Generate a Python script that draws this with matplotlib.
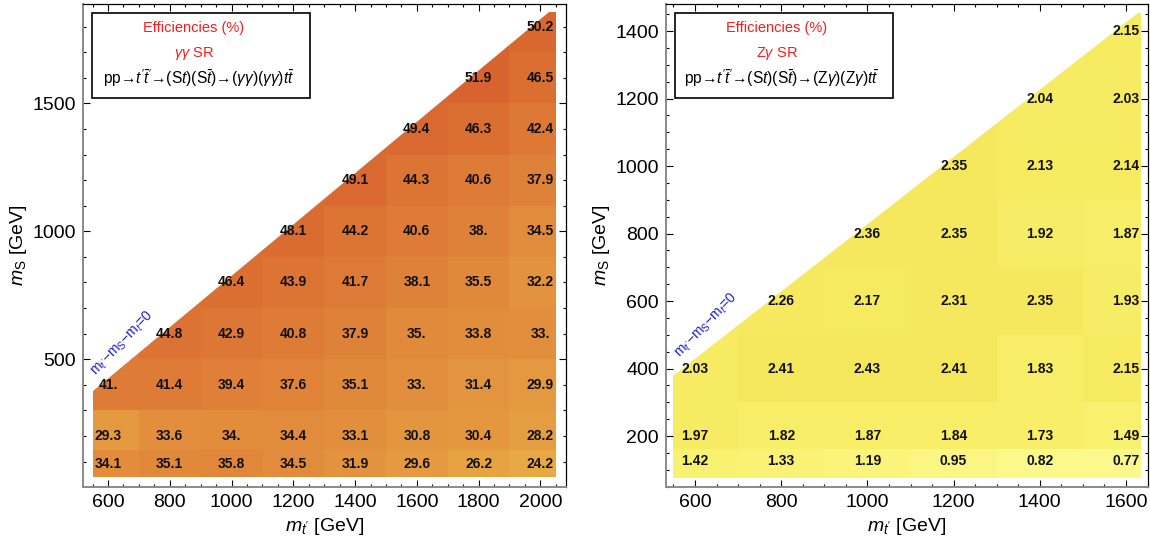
import numpy as np
import matplotlib
matplotlib.use('Agg')
import matplotlib.pyplot as plt
from matplotlib.colors import LinearSegmentedColormap, Normalize
from matplotlib.patches import Polygon, Rectangle
from matplotlib.ticker import MultipleLocator

plt.rcParams['font.family'] = ['Liberation Sans', 'DejaVu Sans']
plt.rcParams['mathtext.fontset'] = 'custom'
plt.rcParams['mathtext.rm'] = 'Liberation Sans'
plt.rcParams['mathtext.it'] = 'Liberation Sans:italic'
plt.rcParams['mathtext.bf'] = 'Liberation Sans:bold'

M_TOP = 173.0

# gamma gamma signal region: efficiencies (%) per (m_t', m_S) point
aa_mtp = [600, 800, 1000, 1200, 1400, 1600, 1800, 2000]
aa_ms = [90, 200, 400, 600, 800, 1000, 1200, 1400, 1600, 1800]
aa_eff = [
    [34.1, 35.1, 35.8, 34.5, 31.9, 29.6, 26.2, 24.2],
    [29.3, 33.6, 34.0, 34.4, 33.1, 30.8, 30.4, 28.2],
    [41.0, 41.4, 39.4, 37.6, 35.1, 33.0, 31.4, 29.9],
    [None, 44.8, 42.9, 40.8, 37.9, 35.0, 33.8, 33.0],
    [None, None, 46.4, 43.9, 41.7, 38.1, 35.5, 32.2],
    [None, None, None, 48.1, 44.2, 40.6, 38.0, 34.5],
    [None, None, None, None, 49.1, 44.3, 40.6, 37.9],
    [None, None, None, None, None, 49.4, 46.3, 42.4],
    [None, None, None, None, None, None, 51.9, 46.5],
    [None, None, None, None, None, None, None, 50.2],
]

# Z gamma signal region
za_mtp = [600, 800, 1000, 1200, 1400, 1600]
za_ms = [125, 200, 400, 600, 800, 1000, 1200, 1400]
za_eff = [
    [1.42, 1.33, 1.19, 0.95, 0.82, 0.77],
    [1.97, 1.82, 1.87, 1.84, 1.73, 1.49],
    [2.03, 2.41, 2.43, 2.41, 1.83, 2.15],
    [None, 2.26, 2.17, 2.31, 2.35, 1.93],
    [None, None, 2.36, 2.35, 1.92, 1.87],
    [None, None, None, 2.35, 2.13, 2.14],
    [None, None, None, None, 2.04, 2.03],
    [None, None, None, None, None, 2.15],
]

aa_cmap = LinearSegmentedColormap.from_list(
    'aa', [(0.0, '#e8a844'), (0.45, '#e0853a'), (1.0, '#d8632e')])
za_cmap = LinearSegmentedColormap.from_list(
    'za', [(0.0, '#fcf88c'), (0.45, '#f9f06c'), (1.0, '#f5e75c')])


def fmt(v):
    # Mathematica style: whole numbers get a trailing dot
    if float(v).is_integer():
        return f"{int(v)}."
    return f"{v:g}"


def edges(centers, lo, hi):
    c = np.asarray(centers, dtype=float)
    mid = (c[1:] + c[:-1]) / 2
    return np.concatenate([[lo], mid, [hi]])


def draw_panel(ax, mtp, ms, eff, cmap, extent, lims, title2, process):
    x0, x1, y0, y1 = extent
    z = np.array([[np.nan if v is None else v for v in row] for row in eff])
    # fill missing cells with the value below so the clipped region has no holes
    zf = z.copy()
    for i in range(1, zf.shape[0]):
        m = np.isnan(zf[i])
        zf[i][m] = zf[i - 1][m]
    vals = z[~np.isnan(z)]
    norm = Normalize(vals.min(), vals.max())

    xe = edges(mtp, x0, x1)
    ye = edges(ms, y0, y1)
    mesh = ax.pcolormesh(xe, ye, zf, cmap=cmap, norm=norm, shading='flat',
                         edgecolor='none', antialiased=False, zorder=1)

    verts = [(x0, y0), (x1, y0)]
    if x1 - M_TOP > y1:
        verts += [(x1, y1), (y1 + M_TOP, y1)]
    else:
        verts += [(x1, x1 - M_TOP)]
    verts += [(x0, x0 - M_TOP)]
    clip = Polygon(verts, closed=True, transform=ax.transData,
                   facecolor='none', edgecolor='none')
    ax.add_patch(clip)
    mesh.set_clip_path(clip)

    for i, m_s in enumerate(ms):
        for j, m_t in enumerate(mtp):
            if eff[i][j] is not None:
                ax.text(m_t, m_s, fmt(eff[i][j]), ha='center', va='center',
                        fontsize=10, fontweight='bold', color='#111111', zorder=3)

    ax.set_xlim(*lims[:2])
    ax.set_ylim(*lims[2:])

    ax.text(x0 + 22, x0 - M_TOP + 45,
            r"m$_{t'}$$-$m$_\mathrm{S}$$-$m$_t$=0", color='#2020c8', fontsize=10,
            rotation=46, rotation_mode='anchor', ha='left', va='bottom', zorder=3)

    # legend box
    ax.add_patch(Rectangle((0.02, 0.805), 0.45, 0.176, transform=ax.transAxes,
                           facecolor='white', edgecolor='black', linewidth=1.2,
                           zorder=4))
    ax.text(0.23, 0.950, 'Efficiencies (%)', transform=ax.transAxes, color='#ff1a1a',
            fontsize=10.5, ha='center', va='center', zorder=5)
    ax.text(0.23, 0.898, title2, transform=ax.transAxes, color='#ff1a1a',
            fontsize=10.5, ha='center', va='center', zorder=5)
    ax.text(0.24, 0.846, process, transform=ax.transAxes, color='black',
            fontsize=11.2, ha='center', va='center', zorder=5)

    ax.xaxis.set_major_locator(MultipleLocator(200))
    ax.xaxis.set_minor_locator(MultipleLocator(50))
    ax.tick_params(which='both', direction='in', top=True, right=True,
                   labelsize=14, width=0.8, pad=5)
    ax.tick_params(which='major', length=5)
    ax.tick_params(which='minor', length=2.5)
    for s in ['left', 'bottom']:
        ax.spines[s].set_color('#8a8a8a')
        ax.spines[s].set_linewidth(1.4)
    for s in ['top', 'right']:
        ax.spines[s].set_color('black')
        ax.spines[s].set_linewidth(0.9)

    ax.set_xlabel(r"$m_{t'}$ [GeV]", fontsize=14, labelpad=4)
    ax.set_ylabel(r"$m_\mathrm{S}$ [GeV]", fontsize=14, labelpad=2)


fig = plt.figure(figsize=(11.5, 5.45), dpi=100)
ax1 = fig.add_axes([0.0719, 0.107, 0.42, 0.8856])
ax2 = fig.add_axes([0.5789, 0.107, 0.4197, 0.8856])

draw_panel(ax1, aa_mtp, aa_ms, aa_eff, aa_cmap, (550, 2050, 40, 1855),
           (518, 2082, 2, 1888), r"$\gamma\gamma$ SR",
           "pp\u2192$t'\\bar{t}'$\u2192(S$t$)(S$\\bar{t}$)\u2192"
           "($\\gamma\\gamma$)($\\gamma\\gamma$)$t\\bar{t}$")
ax1.yaxis.set_major_locator(MultipleLocator(500))
ax1.yaxis.set_minor_locator(MultipleLocator(100))

draw_panel(ax2, za_mtp, za_ms, za_eff, za_cmap, (550, 1635, 77, 1454),
           (532, 1652, 50, 1480), r"Z$\gamma$ SR",
           "pp\u2192$t'\\bar{t}'$\u2192(S$t$)(S$\\bar{t}$)\u2192"
           "(Z$\\gamma$)(Z$\\gamma$)$t\\bar{t}$")
ax2.yaxis.set_major_locator(MultipleLocator(200))
ax2.yaxis.set_minor_locator(MultipleLocator(50))

fig.savefig('out.png', dpi=100)
